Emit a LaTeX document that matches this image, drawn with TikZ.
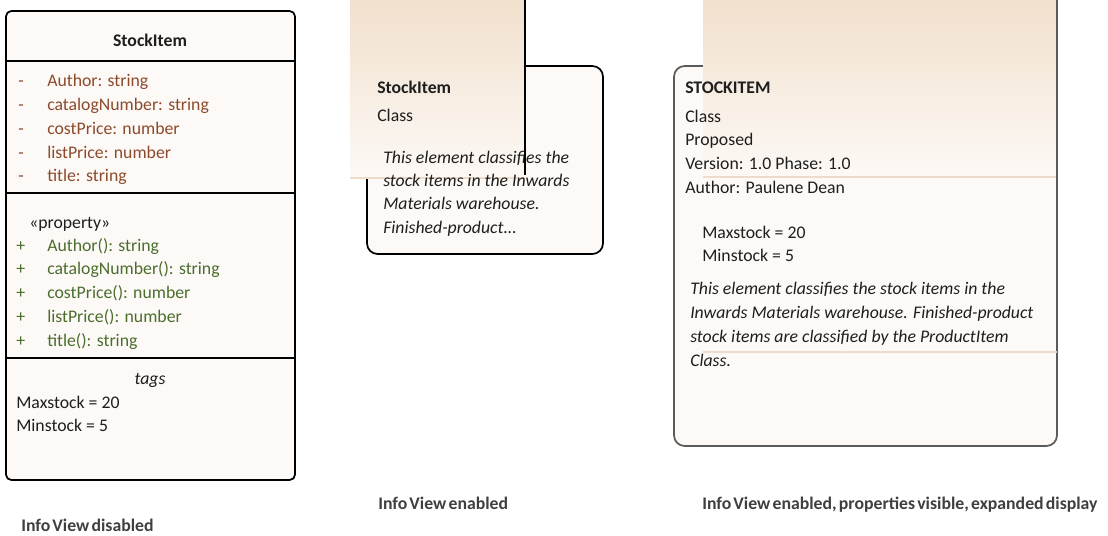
\documentclass[tikz,border=0pt]{standalone}
\usepackage{fontspec}
\setmainfont{Carlito}
\newfontfamily\capfont[WordSpace=0.55]{Carlito}
\definecolor{boxfill}{HTML}{FDF9F6}
\definecolor{tanTop}{HTML}{F1E0CD}
\definecolor{tanLine}{HTML}{EEDCC8}
\definecolor{attrc}{HTML}{8B4A2C}
\definecolor{opc}{HTML}{4A6E2E}
\definecolor{txtc}{HTML}{1E1E1E}
\definecolor{capc}{HTML}{3F3F3F}
\definecolor{grayborder}{HTML}{5A5A5A}
\newcommand{\fsz}{\fontsize{13.3pt}{16pt}\selectfont}
\begin{document}
\begin{tikzpicture}[x=0.75pt,y=-0.75pt,
  txt/.style={anchor=base west,inner sep=0pt,font=\fsz,text=txtc},
  ctxt/.style={anchor=base,inner sep=0pt,font=\fsz,text=txtc},
  bold/.style={font=\fsz\bfseries},
  ital/.style={font=\fsz\itshape},
  attr/.style={txt,text=attrc},
  oper/.style={txt,text=opc},
  caption/.style={anchor=base west,inner sep=0pt,font=\capfont\fsz\bfseries,text=capc},
  classbox/.style={draw=black,line width=1.3pt,fill=boxfill},
  overlay/.style={top color=tanTop,bottom color=boxfill,draw=none},
]
\useasboundingbox (0,0) rectangle (1108,536);

% ---------- Left: Info View disabled ----------
\draw[classbox,rounded corners=4pt] (6,11) rectangle (295,480);
\draw[line width=1.3pt] (6,61) -- (295,61);
\draw[line width=1.3pt] (6,193) -- (295,193);
\draw[line width=1.3pt] (6,358) -- (295,358);
\node[ctxt,bold] (lname) at (150,46) {StockItem};
\foreach \i/\t/\y in {a/{Author: string}/86, b/{catalogNumber: string}/110, c/{costPrice: number}/134, d/{listPrice: number}/158, e/{title: string}/181}{
  \node[attr] (la\i) at (18,\y) {-};
  \node[attr] (lt\i) at (47,\y) {\t};
}
\node[txt] (lprop) at (29,228) {«property»};
\foreach \i/\t/\y in {a/{Author(): string}/251, b/{catalogNumber(): string}/274, c/{costPrice(): number}/298, d/{listPrice(): number}/322, e/{title(): string}/346}{
  \node[oper] (lp\i) at (16,\y) {+};
  \node[oper] (lo\i) at (47,\y) {\t};
}
\node[ctxt,ital] (ltags) at (150,384) {tags};
\node[txt] (lmax) at (16,408) {Maxstock = 20};
\node[txt] (lmin) at (16,431) {Minstock = 5};
\node[caption] (cap1) at (21,531) {Info View disabled};

% ---------- Middle: Info View enabled ----------
\draw[classbox,rounded corners=8pt] (367,66) rectangle (603,254);
\fill[overlay] (350,0) rectangle (525,178);
\draw[tanLine,line width=1.5pt] (350,178) -- (525,178);
\node[txt,bold] (mname) at (377,93) {StockItem};
\node[txt] (mclass) at (377,121) {Class};
\node[txt,ital] (md1) at (383,163) {This element classifies the};
\node[txt,ital] (md2) at (383,186) {stock items in the Inwards};
\node[txt,ital] (md3) at (383,209) {Materials warehouse.};
\node[txt,ital] (md4) at (383,233) {Finished-product...};
\draw[black,line width=1.3pt] (525,0) -- (525,175);
\node[caption] (cap2) at (378,509) {Info View enabled};

% ---------- Right: expanded display ----------
\draw[draw=grayborder,line width=1.3pt,fill=boxfill,rounded corners=8pt] (674,66) rectangle (1057,446);
\fill[overlay] (703,0) rectangle (1057,178);
\draw[tanLine,line width=1.2pt] (703,177) -- (1057,177);
\draw[tanLine,line width=1.2pt] (703,352) -- (1057,352);
\draw[grayborder,line width=1.3pt] (1057,0) -- (1057,180);
\node[txt,bold] (rname) at (685,93) {STOCKITEM};
\node[txt] (rclass) at (685,122) {Class};
\node[txt] (rstat) at (685,145) {Proposed};
\node[txt] (rver) at (685,169) {Version: 1.0 Phase: 1.0};
\node[txt] (rauth) at (685,193) {Author: Paulene Dean};
\node[txt] (rmax) at (702,238) {Maxstock = 20};
\node[txt] (rmin) at (702,261) {Minstock = 5};
\node[txt,ital] (rd1) at (690,294) {This element classifies the stock items in the};
\node[txt,ital] (rd2) at (690,318) {Inwards Materials warehouse. Finished-product};
\node[txt,ital] (rd3) at (690,342) {stock items are classified by the ProductItem};
\node[txt,ital] (rd4) at (690,366) {Class.};
\node[caption] (cap3) at (702,509) {Info View enabled, properties visible, expanded display};
\end{tikzpicture}
\end{document}
